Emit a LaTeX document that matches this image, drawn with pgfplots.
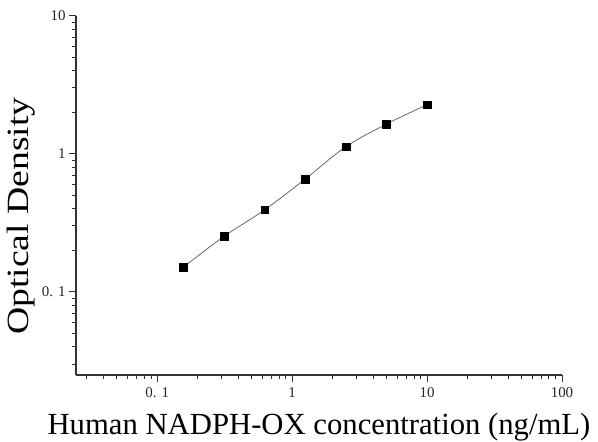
\documentclass[border=0pt]{standalone}
\usepackage{fontspec}
\setmainfont{Liberation Serif}
\usepackage{graphicx}
\usepackage{pgfplots}
\pgfplotsset{compat=1.18}
\begin{document}
\begin{tikzpicture}
\begin{axis}[
    at={(0,0)}, anchor=south west,
    scale only axis,
    width=486bp, height=359.3bp,
    xmode=log, ymode=log,
    xmin=0.025, xmax=100,
    ymin=0.025, ymax=10,
    axis x line*=bottom,
    axis y line*=left,
    x axis line style={-},
    y axis line style={-},
    axis line style={line width=1.2bp, draw=black!80},
    xtick pos=bottom, ytick pos=left,
    tick align=outside,
    major tick length=7bp,
    minor tick length=4bp,
    every tick/.style={line width=1bp, draw=black!80},
    xtick={0.1,1,10,100},
    xticklabels={0. 1,1,10,100},
    minor xtick={0.03,0.04,0.05,0.06,0.07,0.08,0.09,0.2,0.3,0.4,0.5,0.6,0.7,0.8,0.9,2,3,4,5,6,7,8,9,20,30,40,50,60,70,80,90},
    ytick={0.1,1,10},
    yticklabels={0. 1,1,10},
    minor ytick={0.03,0.04,0.05,0.06,0.07,0.08,0.09,0.2,0.3,0.4,0.5,0.6,0.7,0.8,0.9,2,3,4,5,6,7,8,9},
    tick label style={font=\fontsize{15}{15}\selectfont, text=black!85},
    xticklabel style={yshift=-2bp},
    xlabel={Human NADPH-OX concentration (ng/mL)},
    xlabel style={font=\fontsize{30.8}{31}\selectfont, at={(axis description cs:0.5,-0.166)}, anchor=base},
    ylabel={\scalebox{1.22}[1]{Optical Density}},
    ylabel style={font=\fontsize{31}{31}\selectfont, at={(axis description cs:-0.1132,0.4425)}, anchor=center},
]
% fitted curve
\addplot[smooth, tension=0.6, no marks, draw=black!65, line width=0.7bp]
    coordinates {(0.15625,0.151) (0.3125,0.252) (0.625,0.393) (1.25,0.656) (2.5,1.124) (5,1.64) (10,2.27)};
% standards
\addplot[only marks, mark=square*, mark size=3.85bp, black]
    coordinates {(0.15625,0.151) (0.3125,0.252) (0.625,0.393) (1.25,0.656) (2.5,1.124) (5,1.64) (10,2.27)};
\end{axis}
\pgfresetboundingbox
\path (-76bp,-67bp) rectangle (522bp,375bp);
\end{tikzpicture}
\end{document}
